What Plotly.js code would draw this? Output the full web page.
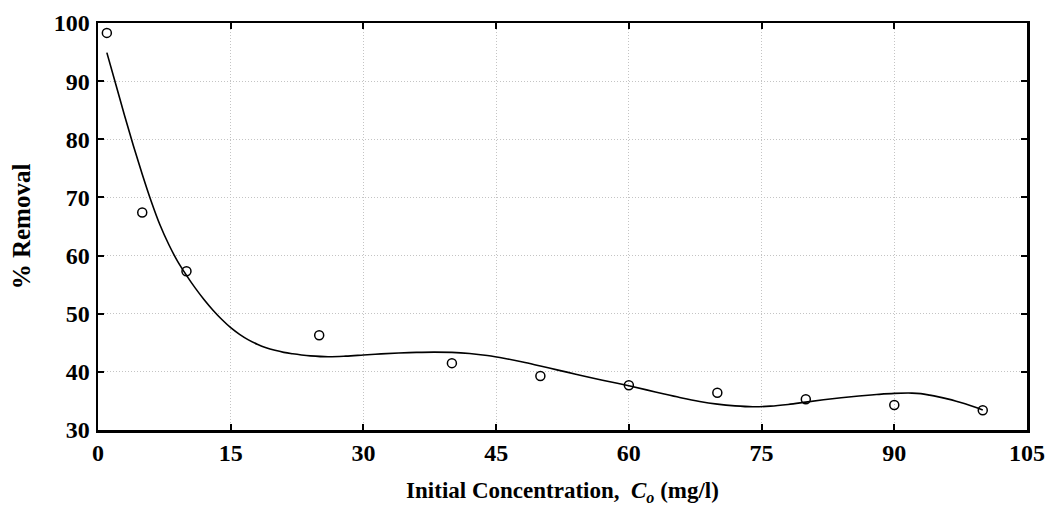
<!DOCTYPE html>
<html>
<head>
<meta charset="utf-8">
<script src="https://cdn.plot.ly/plotly-3.0.1.min.js"></script>
<style>html,body{margin:0;padding:0;background:#fff;}#chart{width:1048px;height:506px;}</style>
</head>
<body>
<div id="chart"></div>
<script>
// Measured data points
const concentration = [1, 5, 10, 25, 40, 50, 60, 70, 80, 90, 100];
const removal = [98.3, 67.4, 57.3, 46.3, 41.5, 39.3, 37.7, 36.4, 35.3, 34.3, 33.4];

// Fitted curve, values
const fitX = [1, 2, 3, 4, 5, 6, 7, 8, 9, 10, 11, 12, 13, 14, 15, 16, 17, 18, 19, 20, 21, 22, 23, 24, 26, 28, 30, 32, 34, 36, 38, 40, 42, 44, 46, 48, 50, 52, 54, 56, 58, 60, 62, 64, 66, 68, 70, 72, 74, 76, 78, 80, 82, 84, 86, 88, 90, 92, 93, 94, 95, 96, 97, 98, 99, 100];
const fitY = [94.9, 89.5, 84.1, 78.9, 74.0, 69.4, 65.3, 61.9, 59.0, 56.6, 54.4, 52.4, 50.6, 49.0, 47.6, 46.45, 45.5, 44.75, 44.15, 43.7, 43.35, 43.1, 42.9, 42.75, 42.6, 42.7, 42.9, 43.1, 43.25, 43.35, 43.4, 43.35, 43.15, 42.8, 42.3, 41.7, 41.0, 40.3, 39.6, 38.9, 38.25, 37.6, 36.9, 36.2, 35.5, 34.9, 34.45, 34.15, 34.0, 34.1, 34.4, 34.8, 35.2, 35.55, 35.85, 36.1, 36.3, 36.35, 36.25, 36.0, 35.7, 35.35, 34.95, 34.5, 34.0, 33.45];

const xTicks = [0, 15, 30, 45, 60, 75, 90, 105];
const yTicks = [30, 40, 50, 60, 70, 80, 90, 100];

const fontFam = '"Liberation Serif", "Times New Roman", serif';

const traces = [
  {
    x: fitX, y: fitY, mode: 'lines', type: 'scatter',
    line: {color: '#000', width: 1.6, shape: 'spline', smoothing: 1},
    hoverinfo: 'skip', showlegend: false
  },
  {
    x: concentration, y: removal, mode: 'markers', type: 'scatter',
    marker: {symbol: 'circle-open', size: 9, color: '#000', line: {width: 1.5, color: '#000'}},
    showlegend: false
  }
];

const axisCommon = {
  showline: true, linecolor: '#000', linewidth: 2.5, mirror: 'ticks',
  ticks: 'inside', ticklen: 6, tickwidth: 2, tickcolor: '#000',
  showgrid: true, gridcolor: '#c4c4c4', griddash: '1px,2px', gridwidth: 1,
  zeroline: false,
  tickfont: {family: fontFam, size: 24, color: '#000', weight: 'bold'}
};

const layout = {
  width: 1048, height: 506,
  margin: {l: 98, r: 21, t: 23, b: 76},
  paper_bgcolor: '#fff', plot_bgcolor: '#fff',
  xaxis: Object.assign({}, axisCommon, {
    range: [0, 105], tickvals: xTicks, ticktext: xTicks.map(String),
    ticklabelstandoff: 0,
    title: {text: 'Initial Concentration,  <i>C<sub>o</sub></i> (mg/l)', font: {family: fontFam, size: 23, color: '#000', weight: 'bold'}, standoff: 20}
  }),
  yaxis: Object.assign({}, axisCommon, {
    range: [30, 100], tickvals: yTicks, ticktext: yTicks.map(String),
    ticklabelstandoff: 1,
    title: {text: '% Removal', font: {family: fontFam, size: 25, color: '#000', weight: 'bold'}, standoff: 16}
  })
};

Plotly.newPlot('chart', traces, layout, {displayModeBar: false, staticPlot: true});
</script>
</body>
</html>
